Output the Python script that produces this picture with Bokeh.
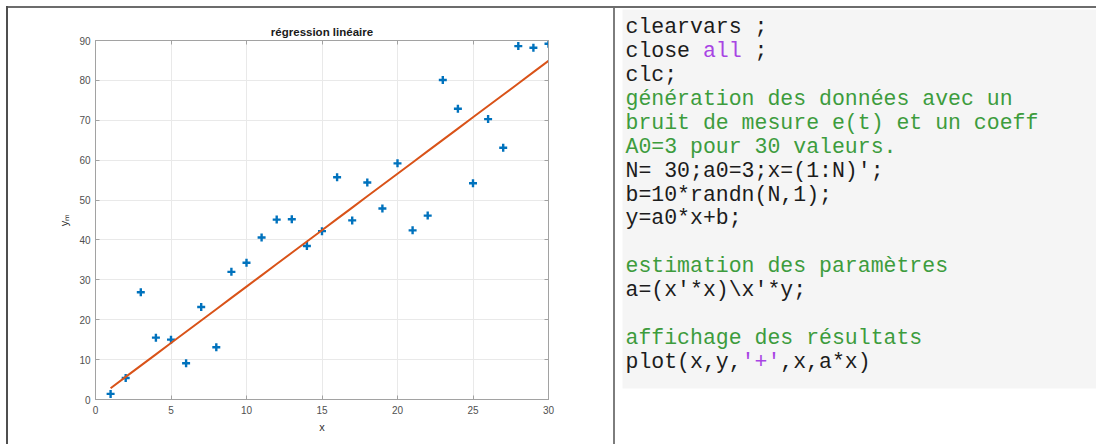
import numpy as np
from bokeh.plotting import figure
from bokeh.models import Range1d, FixedTicker, LinearAxis, Div, Spacer
from bokeh.layouts import row, column
from bokeh.embed import file_html
from bokeh.resources import INLINE
from bokeh.core.properties import value

# measured samples y = a0*x + noise
x_values = list(range(1, 31))
y_measured = [1.4, 5.4, 26.9, 15.5, 15.0, 9.1, 23.2, 13.1, 32.0, 34.3,
              40.6, 45.1, 45.2, 38.5, 42.2, 55.7, 44.9, 54.4, 47.9, 59.2,
              42.4, 46.1, 80.1, 72.9, 54.2, 70.3, 63.1, 88.6, 88.2, 89.2]
x_ticks = [0, 5, 10, 15, 20, 25, 30]
y_ticks = [0, 10, 20, 30, 40, 50, 60, 70, 80, 90]

chart_title = "régression linéaire"
x_label = "x"
y_label = "yₘ"

# MATLAB listing shown beside the chart: (line, column, text, role)
code_segments = [
    (0, 0, "clearvars ;", "code"),
    (1, 0, "close", "code"),
    (1, 6, "all", "string"),
    (1, 10, ";", "code"),
    (2, 0, "clc;", "code"),
    (3, 0, "génération des données avec un", "comment"),
    (4, 0, "bruit de mesure e(t) et un coeff", "comment"),
    (5, 0, "A0=3 pour 30 valeurs.", "comment"),
    (6, 0, "N= 30;a0=3;x=(1:N)';", "code"),
    (7, 0, "b=10*randn(N,1);", "code"),
    (8, 0, "y=a0*x+b;", "code"),
    (10, 0, "estimation des paramètres", "comment"),
    (11, 0, "a=(x'*x)\\x'*y;", "code"),
    (13, 0, "affichage des résultats", "comment"),
    (14, 0, "plot(x,y,", "code"),
    (14, 9, "'+'", "string"),
    (14, 12, ",x,a*x)", "code"),
]
role_colors = {"code": "#1c1c1c", "comment": "#3d9c3d", "string": "#a844e4"}

# least-squares slope a = (x'*x)\x'*y
xv = np.array(x_values, dtype=float)
yv = np.array(y_measured, dtype=float)
a_hat = float(xv @ yv) / float(xv @ xv)
fit = a_hat * xv

SANS = "Liberation Sans"
AXIS_GRAY = "#a2a2a2"

chart = figure(width=605, height=436,
               x_range=Range1d(0, 30), y_range=Range1d(0, 90),
               output_backend="svg", toolbar_location=None,
               min_border_left=87, min_border_right=65,
               min_border_top=32, min_border_bottom=45,
               title=chart_title, x_axis_label=x_label, y_axis_label=y_label)
chart.frame_align = False
chart.background_fill_color = "white"
chart.border_fill_color = "white"
chart.outline_line_color = AXIS_GRAY
chart.outline_line_width = 1

chart.title.align = "center"
chart.title.text_font = SANS
chart.title.text_font_size = "11.5px"
chart.title.text_font_style = "bold"
chart.title.text_color = "#1a1a1a"
chart.title.standoff = 6

# tick-only axes on the top and right edges of the box
chart.add_layout(LinearAxis(), "above")
chart.add_layout(LinearAxis(), "right")

for ax in chart.xaxis:
    ax.ticker = FixedTicker(ticks=x_ticks)
for ax in chart.yaxis:
    ax.ticker = FixedTicker(ticks=y_ticks)

for ax in chart.axis:
    ax.axis_line_color = AXIS_GRAY
    ax.major_tick_line_color = AXIS_GRAY
    ax.major_tick_in = 4
    ax.major_tick_out = 0
    ax.minor_tick_line_color = None
    ax.major_label_text_font = SANS
    ax.major_label_text_font_size = "10px"
    ax.major_label_text_color = "#505050"
    ax.axis_label_text_font = SANS
    ax.axis_label_text_font_size = "11px"
    ax.axis_label_text_font_style = "normal"
    ax.axis_label_text_color = "#333333"

for ax in (chart.above[0], chart.right[0]):
    ax.major_label_standoff = 0
    ax.major_label_text_font_size = "0px"
    ax.major_label_text_color = None

chart.below[0].major_label_standoff = 6
chart.below[0].axis_label_standoff = 4
chart.left[0].major_label_standoff = 5
chart.left[0].axis_label_standoff = 6

chart.xgrid.ticker = FixedTicker(ticks=x_ticks)
chart.ygrid.ticker = FixedTicker(ticks=y_ticks)
chart.grid.grid_line_color = "#e9e9e9"
chart.grid.grid_line_width = 1

chart.scatter(xv, yv, marker="cross", size=8, line_width=2.4, color="#0072BD")
chart.line(xv, fit, line_color="#D95319", line_width=2)

# code panel, drawn in page pixel coordinates (y grows downward)
code = figure(width=481, height=436,
              x_range=Range1d(615, 1096), y_range=Range1d(444, 8),
              output_backend="svg", toolbar_location=None, min_border=0,
              x_axis_location=None, y_axis_location=None)
code.frame_align = False
code.outline_line_color = None
code.grid.visible = False
code.background_fill_color = "white"
code.border_fill_color = "white"
code.quad(left=622, right=1096, top=9, bottom=388,
          fill_color="#f5f5f5", line_color=None)

FONT_PX = 21.5
CHAR_W = 0.6 * FONT_PX
LINE_H = 23.9
X0 = 625.0
BASE0 = 26.7

seg_x = [X0 + c * CHAR_W for (_, c, _, _) in code_segments]
seg_y = [BASE0 + l * LINE_H for (l, _, _, _) in code_segments]
seg_t = [t for (_, _, t, _) in code_segments]
seg_c = [role_colors[r] for (_, _, _, r) in code_segments]
code.text(x=seg_x, y=seg_y, text=seg_t, text_color=seg_c,
          text_font=value("Liberation Mono"), text_font_size=f"{FONT_PX}px",
          text_baseline="alphabetic", text_align="left")

# table rules around the two cells
top_rule = Div(width=1088, height=2, margin=0,
               styles={"background-color": "#6c6c6c"})
left_rule = Div(width=2, height=438, margin=0,
                styles={"background-color": "#4f4f4f"})
mid_rule = Div(width=2, height=436, margin=0,
               styles={"background-color": "#7d7d7d"})

page = column(
    Spacer(width=1096, height=6, margin=0),
    row(Spacer(width=6, height=438, margin=0),
        left_rule,
        column(top_rule, row(chart, mid_rule, code, spacing=0), spacing=0),
        spacing=0),
    spacing=0,
)

open("out.html", "w").write(file_html(page, INLINE))
